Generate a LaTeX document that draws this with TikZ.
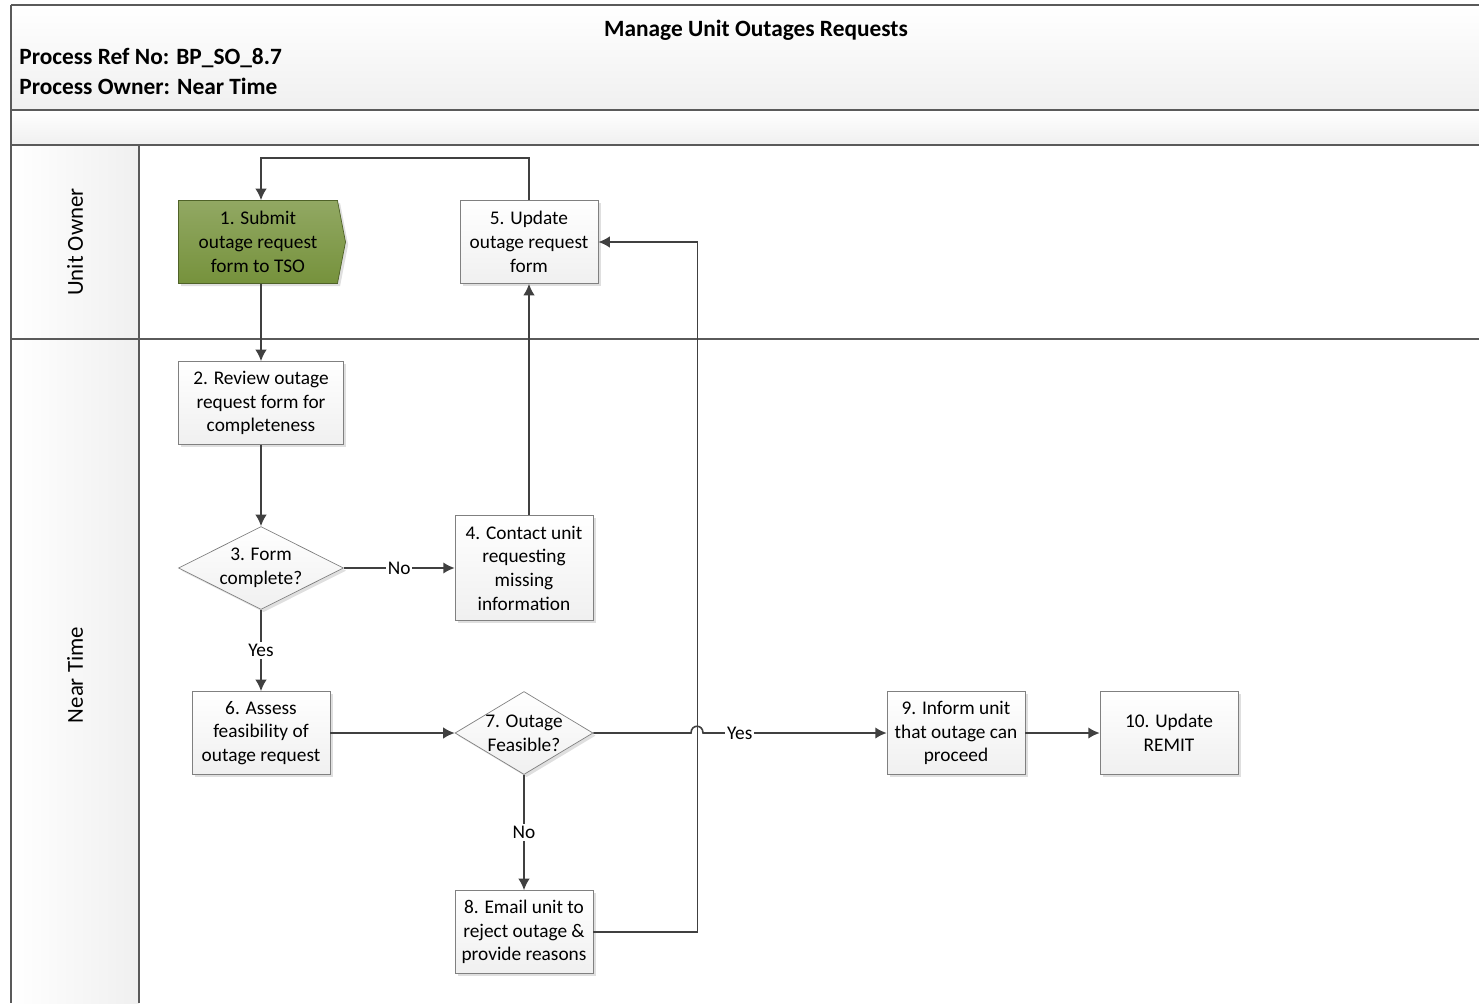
\documentclass[tikz,border=0pt]{standalone}
\usepackage{fontspec}
\setmainfont{Carlito}
\usepackage{tikz}
\usetikzlibrary{
  positioning,
  shapes.geometric,
  shapes.symbols,
  shadows,
  arrows.meta,
  arrows
}
\usepackage{xcolor}
\definecolor{lineGray}{HTML}{404040}
\definecolor{frameGray}{HTML}{5A5A5A}
\definecolor{boxBorder}{HTML}{808080}
\definecolor{actGreen}{HTML}{76923C}
\definecolor{actBorder}{HTML}{4F6228}

\begin{document}
\begin{tikzpicture}[x=0.02cm,y=-0.02cm,>={Latex[length=6.5pt,width=6.5pt]},
  font=\fontsize{11}{13.5}\selectfont,
  frame/.style={draw=frameGray,line width=0.9pt},
  process/.style={draw=boxBorder,top color=white,bottom color=gray!12,
    align=center,minimum width=2.76cm,minimum height=1.66cm,inner sep=2pt,
    drop shadow={shadow xshift=1.5pt,shadow yshift=-1.5pt,opacity=0.25}},
  submit/.style={signal,signal to=east,signal pointer angle=158,draw=actBorder,
    top color=actGreen!80!white,bottom color=actGreen,align=center,
    minimum width=3.34cm,minimum height=1.66cm,inner sep=2pt,
    drop shadow={shadow xshift=1.5pt,shadow yshift=-1.5pt,opacity=0.25}},
  decision/.style={diamond,aspect=1.66,draw=boxBorder,top color=white,bottom color=gray!12,
    align=center,inner sep=-3pt,
    drop shadow={shadow xshift=1.5pt,shadow yshift=-1.5pt,opacity=0.25}},
  flow/.style={->,draw=lineGray,line width=0.9pt},
  lbl/.style={fill=white,inner sep=1pt},
  head/.style={font=\bfseries\fontsize{13.3}{16}\selectfont},
  lane/.style={rotate=90,font=\fontsize{13}{15}\selectfont}]
  \useasboundingbox (0,0) rectangle (1479,1003);

  % pool and lanes
  \shade[top color=white,bottom color=gray!12] (11,5) rectangle (1479,110);
  \shade[top color=white,bottom color=gray!12] (11,110) rectangle (1479,145);
  \shade[left color=white,right color=gray!12] (11,145) rectangle (139,1003);
  \draw[frame] (11,5) -- (1479,5);
  \draw[frame] (11,5) -- (11,1003);
  \draw[frame] (11,110) -- (1479,110);
  \draw[frame] (11,145) -- (1479,145);
  \draw[frame] (11,339) -- (1479,339);
  \draw[frame] (139,145) -- (139,1003);

  \node[head] (title) at (756,30) {Manage Unit Outages Requests};
  \node[head,anchor=west,inner sep=0pt] (refno) at (19,58) {Process Ref No: BP\_SO\_8.7};
  \node[head,anchor=west,inner sep=0pt] (owner) at (19,86) {Process Owner: Near Time};
  \node[lane] (laneUnit) at (75,242) {Unit Owner};
  \node[lane] (laneNear) at (75,675) {Near Time};

  % steps
  \node[submit] (s1) at (258,242) {1. Submit\\outage request\\form to TSO};
  \node[process] (s5) at (529,242) {5. Update\\outage request\\form};
  \node[process,minimum width=3.3cm] (s2) at (261,403) {2. Review outage\\request form for\\completeness};
  \node[decision,minimum width=3.3cm,minimum height=1.66cm] (d3) at (261,568) {3. Form\\complete?};
  \node[process,minimum height=2.1cm] (s4) at (524,568) {4. Contact unit\\requesting\\missing\\information};
  \node[process] (s6) at (261,733) {6. Assess\\feasibility of\\outage request};
  \node[decision,minimum width=2.76cm,minimum height=1.66cm] (d7) at (524,733) {7. Outage\\Feasible?};
  \node[process] (s8) at (524,932) {8. Email unit to\\reject outage \&\\provide reasons};
  \node[process] (s9) at (956,733) {9. Inform unit\\that outage can\\proceed};
  \node[process] (s10) at (1169,733) {10. Update\\REMIT};

  % connectors
  \draw[flow] (s2.north |- s1.south) -- (s2.north);
  \draw[flow] (s2) -- (d3);
  \draw[flow] (d3) -- node[lbl] {No} (s4);
  \draw[flow] (d3) -- node[lbl] {Yes} (s6);
  \draw[flow] (s5.south |- s4.north) -- (s5.south);
  \draw[flow] (s5.north) -- ++(0,-42) -| (s2.north |- s1.north);
  \draw[flow] (s6) -- (d7);
  \draw[flow] (d7) -- node[lbl] {No} (s8);
  \draw[flow] (s8.east) -- ++(104,0) |- (s5.east);
  \draw[flow] (d7.east) -- (691,733) .. controls (691,724) and (703,724) .. (703,733)
    -- node[lbl,pos=0.2] {Yes} (s9.west);
  \draw[flow] (s9) -- (s10);
\end{tikzpicture}
\end{document}
